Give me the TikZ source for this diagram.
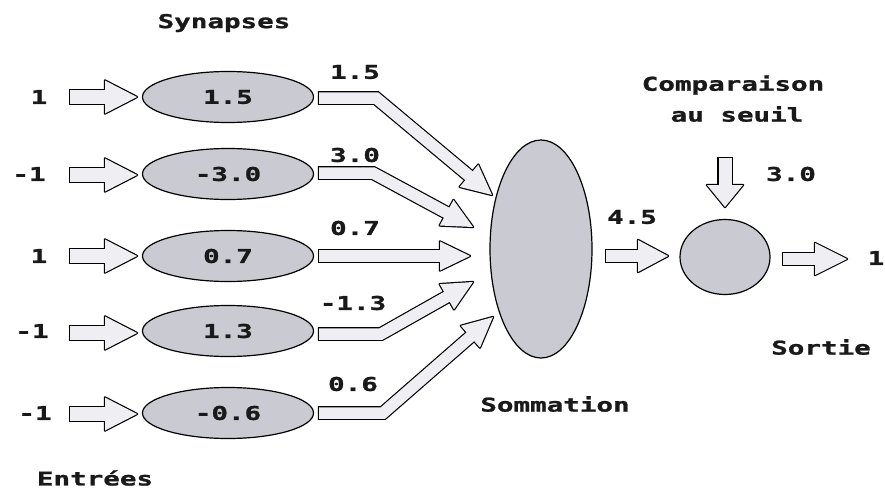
\documentclass[tikz,border=0pt]{standalone}
\usepackage{fontspec}
\newfontfamily\pix[FakeStretch=1.45,BoldFeatures={FakeBold=1.2}]{DejaVu Sans Mono}
\usetikzlibrary{calc,shapes.geometric}
\definecolor{afill}{RGB}{238,238,243}
\definecolor{efill}{RGB}{202,202,210}
\tikzset{
  lbl/.style={font=\pix\bfseries\fontsize{19}{22}\selectfont, inner sep=0pt, text=black!90},
  syn/.style={ellipse, draw=black, line width=1.2pt, fill=efill, minimum width=171pt, minimum height=51pt, inner sep=0pt, lbl},
}
% #1 start, #2 bend, #3 tip, #4 head half width, #5 head length, #6 shaft width, #7 shaft width + outline
\newcommand\barr[7]{%
  \coordinate (bS) at ($(#1)!-1.2pt!(#2)$);
  \coordinate (bC) at ($(#3)!#5pt!(#2)$);
  \coordinate (bD) at ($(#3)!#5pt-4pt!(#2)$);
  \coordinate (bH1) at ($(bC)!#4pt!90:(#3)$);
  \coordinate (bH2) at ($(bC)!#4pt!-90:(#3)$);
  \draw[black, line width=#7pt, line join=miter] (bS) -- (#2) -- (bC);
  \filldraw[black, line width=2.4pt, line join=round] (bH1) -- (#3) -- (bH2) -- cycle;
  \draw[afill, line width=#6pt, line join=miter] (#1) -- (#2) -- (bD);
  \fill[afill] (bH1) -- (#3) -- (bH2) -- cycle;
}
\begin{document}
\begin{tikzpicture}[x=1pt,y=-1pt]
\useasboundingbox (0,0) rectangle (885,490);
% titles
\node[lbl] (tsyn) at (224,23) {Synapses};
\node[lbl] (tent) at (95,478) {Entrées};
\node[lbl] (tsom) at (555,404) {Sommation};
\node[lbl] (tcmp1) at (733,85) {Comparaison};
\node[lbl] (tcmp2) at (737,114) {au seuil};
\node[lbl] (tsor) at (821,347) {Sortie};
% inputs
\node[lbl] (in1) at (39,97) {1};
\node[lbl] (in2) at (29,174) {-1};
\node[lbl] (in3) at (39,256) {1};
\node[lbl] (in4) at (32,331) {-1};
\node[lbl] (in5) at (35,413) {-1};
% synapses
\node[syn] (s1) at (228,97) {1.5};
\node[syn] (s2) at (228,174) {-3.0};
\node[syn] (s3) at (228,256) {0.7};
\node[syn] (s4) at (228,331) {1.3};
\node[syn] (s5) at (228,413) {-0.6};
% weights
\node[lbl] (w1) at (355,72) {1.5};
\node[lbl] (w2) at (355,155) {3.0};
\node[lbl] (w3) at (355,228) {0.7};
\node[lbl] (w4) at (353,303) {-1.3};
\node[lbl] (w5) at (353,384) {0.6};
% summation and threshold
\node[ellipse, draw=black, line width=1.2pt, fill=efill, minimum width=102pt, minimum height=218pt] (sum) at (541,249) {};
\node[ellipse, draw=black, line width=1.2pt, fill=efill, minimum width=90pt, minimum height=75pt] (thr) at (725,257) {};
\node[lbl] (v45) at (632,217) {4.5};
\node[lbl] (v30) at (791,174) {3.0};
\node[lbl] (out) at (876,258) {1};
% input arrows
\foreach \i/\y in {1/97,2/175,3/256,4/333,5/414}{
  \coordinate (ia\i) at (70,\y);
  \coordinate (ib\i) at (90,\y);
  \coordinate (it\i) at (137,\y);
  \barr{ia\i}{ib\i}{it\i}{16.5}{32}{13.5}{15.9}
}
% synapse to summation arrows
\coordinate (oa1) at (319,98);  \coordinate (ob1) at (376,98);  \coordinate (ot1) at (492,195);
\coordinate (oa2) at (319,173); \coordinate (ob2) at (373,173); \coordinate (ot2) at (473,227);
\coordinate (oa3) at (319,256); \coordinate (ob3) at (400,256); \coordinate (ot3) at (470,256);
\coordinate (oa4) at (319,334); \coordinate (ob4) at (381,334); \coordinate (ot4) at (473,282);
\coordinate (oa5) at (319,413); \coordinate (ob5) at (383,413); \coordinate (ot5) at (493,317);
\foreach \i in {1,...,5}{
  \barr{oa\i}{ob\i}{ot\i}{14.5}{30}{11.5}{13.9}
}
% summation to threshold
\coordinate (sa) at (606,256); \coordinate (sb) at (620,256); \coordinate (st) at (668,256);
\barr{sa}{sb}{st}{16}{30}{11.5}{13.9}
% threshold input
\coordinate (da) at (725,158); \coordinate (db) at (725,170); \coordinate (dt) at (725,207);
\barr{da}{db}{dt}{18}{22}{13}{15.4}
% output
\coordinate (pa) at (783,259); \coordinate (pb) at (800,259); \coordinate (pt) at (847,259);
\barr{pa}{pb}{pt}{16}{32}{11.5}{13.9}
\end{tikzpicture}
\end{document}
